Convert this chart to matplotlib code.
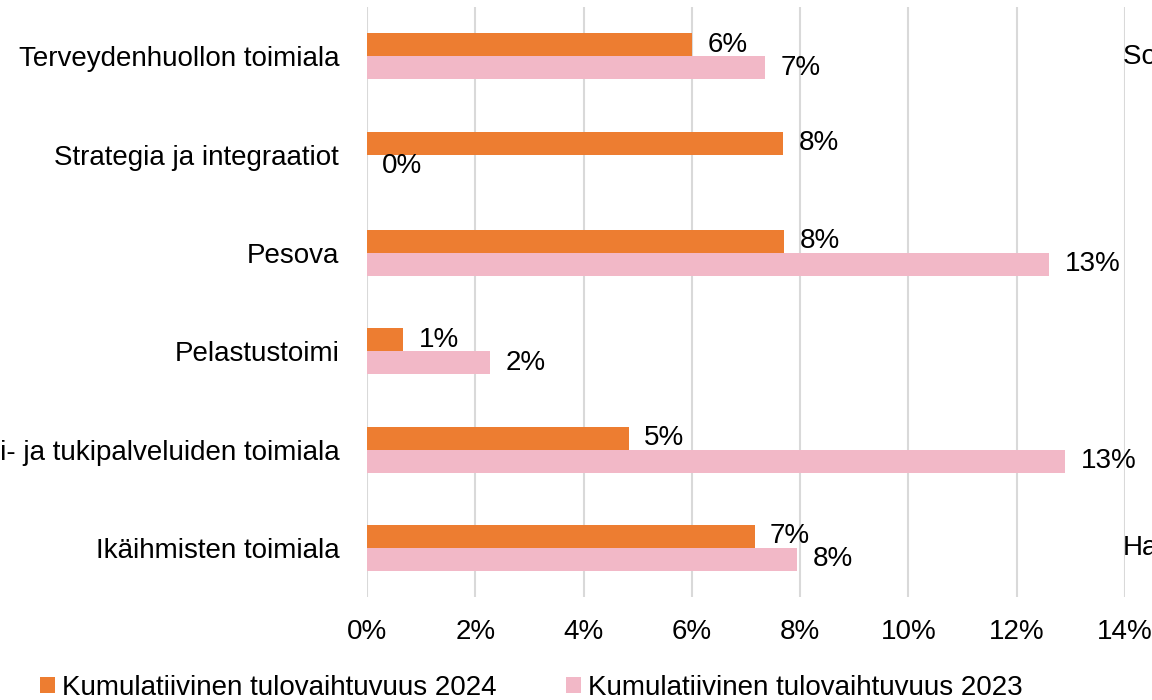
import matplotlib.pyplot as plt
import numpy as np

plt.rcParams['font.family'] = ['Liberation Sans', 'DejaVu Sans']

# Toimialat ylhäältä alas
categories = [
    'Terveydenhuollon toimiala',
    'Strategia ja integraatiot',
    'Pesova',
    'Pelastustoimi',
    'Konserni- ja tukipalveluiden toimiala',
    'Ikäihmisten toimiala',
]
# Kumulatiivinen tulovaihtuvuus (%)
turnover_2024 = [6.0, 7.69, 7.71, 0.67, 4.83, 7.16]
turnover_2023 = [7.35, 0.0, 12.6, 2.27, 12.9, 7.95]
x_ticks = [0, 2, 4, 6, 8, 10, 12, 14]

c_2024 = '#ED7D31'
c_2023 = '#F2B8C7'

fig = plt.figure(figsize=(11.52, 7.0), dpi=100)
ax = fig.add_axes([0.3186, 0.147, 0.6580, 0.843])

y = np.arange(len(categories))
h = 0.234
bars_24 = ax.barh(y - h / 2, turnover_2024, height=h, color=c_2024,
                  label='Kumulatiivinen tulovaihtuvuus 2024', zorder=3)
bars_23 = ax.barh(y + h / 2, turnover_2023, height=h, color=c_2023,
                  label='Kumulatiivinen tulovaihtuvuus 2023', zorder=3)

# Arvot palkkien perään
for bars, vals in ((bars_24, turnover_2024), (bars_23, turnover_2023)):
    for b, v in zip(bars, vals):
        ax.annotate(f'{v:.0f}%', (v, b.get_y() + b.get_height() / 2),
                    xytext=(11, 0), textcoords='offset points',
                    ha='left', va='center', fontsize=20, color='black')

ax.set_xlim(0, 14)
ax.set_ylim(len(categories) - 0.5, -0.5)
ax.set_xticks(x_ticks)
ax.set_xticklabels([f'{t}%' for t in x_ticks])
ax.set_yticks(y)
ax.set_yticklabels(categories)
ax.tick_params(axis='both', length=0, labelsize=20)
ax.tick_params(axis='x', pad=16)
ax.tick_params(axis='y', pad=20)
ax.grid(axis='x', color='#D9D9D9', linewidth=1.5, zorder=0)
for s in ax.spines.values():
    s.set_visible(False)

# Viereisen kaavion otsikot oikeassa reunassa
fig.text(1123 / 1152, 1 - 57 / 700, 'Sosiaalihuollon toimiala', fontsize=20,
         ha='left', va='center')
fig.text(1123 / 1152, 1 - 548 / 700, 'Hallinto', fontsize=20,
         ha='left', va='center')

fig.legend(loc='center left', bbox_to_anchor=(40 / 1152, 1 - 688 / 700), ncol=2,
           frameon=False, fontsize=20, handlelength=0.54, handleheight=0.54,
           handletextpad=0.25, columnspacing=2.5, borderaxespad=0,
           borderpad=0)

fig.savefig('out.png', dpi=100)
